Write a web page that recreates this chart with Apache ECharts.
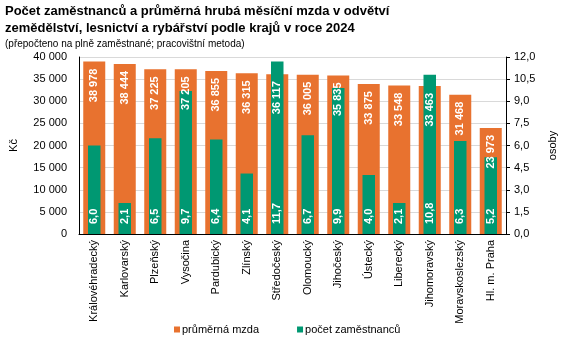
<!DOCTYPE html>
<html>
<head>
<meta charset="utf-8">
<script src="https://cdn.jsdelivr.net/npm/echarts@6/dist/echarts.min.js"></script>
<style>
html,body{margin:0;padding:0;background:#fff;}
#c{width:566px;height:342px;}
</style>
</head>
<body>
<div id="c"></div>
<script>
var categories = ['Královéhradecký','Karlovarský','Plzeňský','Vysočina','Pardubický','Zlínský','Středočeský','Olomoucký','Jihočeský','Ústecký','Liberecký','Jihomoravský','Moravskoslezský','Hl. m. Praha'];
var wages = [38978, 38444, 37225, 37205, 36855, 36315, 36117, 36005, 35835, 33875, 33548, 33463, 31468, 23973];
var employees = [6.0, 2.1, 6.5, 9.7, 6.4, 4.1, 11.7, 6.7, 9.9, 4.0, 2.1, 10.8, 6.3, 5.2];
var leftTicks = {min: 0, max: 40000, interval: 5000};
var rightTicks = {min: 0, max: 12, interval: 1.5};

var FONT = '"Liberation Sans", Arial, sans-serif';
var ORANGE = '#E8722F';
var GREEN = '#009872';

function fmtThousands(v) {
  return String(Math.round(v)).replace(/\B(?=(\d{3})+(?!\d))/g, ' ');
}
function fmtDec(v) {
  return Number(v).toFixed(1).replace('.', ',');
}

var chart = echarts.init(document.getElementById('c'), null, {renderer: 'canvas'});
chart.setOption({
  animation: false,
  backgroundColor: '#fff',
  textStyle: {fontFamily: FONT},
  title: {
    left: 5, top: 3,
    text: 'Počet zaměstnanců a průměrná hrubá měsíční mzda v odvětví\nzemědělství, lesnictví a rybářství podle krajů v roce 2024',
    textStyle: {fontFamily: FONT, fontSize: 13, fontWeight: 'bold', color: '#000', lineHeight: 17},
    subtext: '(přepočteno na plně zaměstnané; pracovištní metoda)',
    subtextStyle: {fontFamily: FONT, fontSize: 10, color: '#000', lineHeight: 12},
    itemGap: 1,
    padding: 0
  },
  legend: {
    data: ['průměrná mzda', 'počet zaměstnanců'],
    left: 174, top: 324,
    icon: 'rect', itemWidth: 6, itemHeight: 6, itemGap: 38,
    padding: 0,
    textStyle: {fontFamily: FONT, fontSize: 11, color: '#000', padding: [0, 0, 0, -3]}
  },
  grid: {left: 76, right: 46, top: 57, bottom: 108, containLabel: false},
  xAxis: [{
    type: 'category', data: categories,
    axisLine: {lineStyle: {color: '#000', width: 1}},
    axisTick: {show: false},
    axisLabel: {rotate: 90, fontFamily: FONT, fontSize: 11, color: '#000', margin: 6, interval: 0}
  }, {
    type: 'category', data: categories, show: false
  }],
  yAxis: [{
    type: 'value', min: leftTicks.min, max: leftTicks.max, interval: leftTicks.interval,
    name: 'Kč', nameLocation: 'middle', nameGap: 60, nameRotate: 90,
    nameTextStyle: {fontFamily: FONT, fontSize: 11, color: '#000'},
    axisLine: {show: true, lineStyle: {color: '#000'}},
    axisTick: {show: false},
    splitLine: {lineStyle: {color: '#d9d9d9'}},
    axisLabel: {fontFamily: FONT, fontSize: 11, color: '#000', margin: 12, formatter: fmtThousands}
  }, {
    type: 'value', min: rightTicks.min, max: rightTicks.max, interval: rightTicks.interval,
    name: 'osoby', nameLocation: 'middle', nameGap: 41, nameRotate: 90,
    nameTextStyle: {fontFamily: FONT, fontSize: 11, color: '#000'},
    axisLine: {show: true, lineStyle: {color: '#000'}},
    axisTick: {show: true, length: 4, lineStyle: {color: '#000'}},
    splitLine: {show: false},
    axisLabel: {fontFamily: FONT, fontSize: 11, color: '#000', margin: 8, formatter: fmtDec}
  }],
  series: [{
    name: 'průměrná mzda', type: 'bar', xAxisIndex: 0, yAxisIndex: 0,
    data: wages, barWidth: 22, barGap: '-100%', z: 2,
    itemStyle: {color: ORANGE}
  }, {
    name: 'lbl', type: 'bar', xAxisIndex: 0, yAxisIndex: 0,
    data: wages, barWidth: 22, barGap: '-100%', z: 5, silent: true,
    itemStyle: {color: 'rgba(0,0,0,0)'},
    label: {
      show: true, position: 'insideTop', rotate: 90, align: 'right', verticalAlign: 'middle',
      distance: 7, color: '#fff', fontFamily: FONT, fontSize: 11, fontWeight: 'bold',
      formatter: function (p) { return fmtThousands(p.value); }
    }
  }, {
    name: 'počet zaměstnanců', type: 'bar', xAxisIndex: 1, yAxisIndex: 1,
    data: employees, barWidth: 12.5, z: 3,
    itemStyle: {color: GREEN},
    label: {
      show: true, position: 'insideBottom', rotate: 90, align: 'left', verticalAlign: 'middle',
      distance: 10, color: '#fff', fontFamily: FONT, fontSize: 11, fontWeight: 'bold',
      formatter: function (p) { return fmtDec(p.value); }
    }
  }]
});
</script>
</body>
</html>
